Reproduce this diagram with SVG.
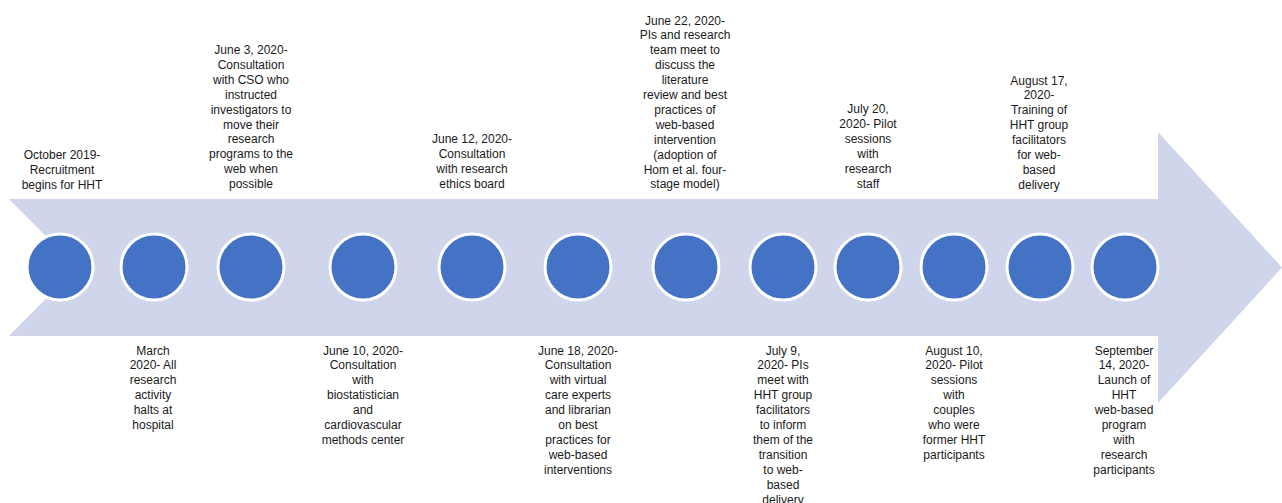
<svg xmlns="http://www.w3.org/2000/svg" width="1282" height="503" viewBox="0 0 1282 503">
<style>
.dot{fill:#4472C4;stroke:#FFFFFF;stroke-width:3}
.lbl{font-family:"Liberation Sans",Arial,sans-serif;font-size:12px;fill:#1a1a1a;text-anchor:middle}
</style>
<rect width="1282" height="503" fill="#FFFFFF"/>
<g id="connectors">
<polygon id="timeline-arrow" points="9,199 1158,199 1158,132 1282,267.5 1158,403 1158,336 9,336 77,267.5" fill="#CFD5EA"/>
</g>
<g id="n1"><circle class="dot" cx="60" cy="267" r="33"/>
<text class="lbl" x="62" y="159"><tspan x="62">October 2019-</tspan><tspan x="62" dy="14.9">Recruitment</tspan><tspan x="62" dy="14.9">begins for HHT</tspan></text></g>
<g id="n2"><circle class="dot" cx="154" cy="267" r="33"/>
<text class="lbl" x="153" y="354.5"><tspan x="153">March</tspan><tspan x="153" dy="14.9">2020- All</tspan><tspan x="153" dy="14.9">research</tspan><tspan x="153" dy="14.9">activity</tspan><tspan x="153" dy="14.9">halts at</tspan><tspan x="153" dy="14.9">hospital</tspan></text></g>
<g id="n3"><circle class="dot" cx="251" cy="267" r="33"/>
<text class="lbl" x="251" y="54"><tspan x="251">June 3, 2020-</tspan><tspan x="251" dy="14.9">Consultation</tspan><tspan x="251" dy="14.9">with CSO who</tspan><tspan x="251" dy="14.9">instructed</tspan><tspan x="251" dy="14.9">investigators to</tspan><tspan x="251" dy="14.9">move their</tspan><tspan x="251" dy="14.9">research</tspan><tspan x="251" dy="14.9">programs to the</tspan><tspan x="251" dy="14.9">web when</tspan><tspan x="251" dy="14.9">possible</tspan></text></g>
<g id="n4"><circle class="dot" cx="363" cy="267" r="33"/>
<text class="lbl" x="363" y="354.5"><tspan x="363">June 10, 2020-</tspan><tspan x="363" dy="14.9">Consultation</tspan><tspan x="363" dy="14.9">with</tspan><tspan x="363" dy="14.9">biostatistician</tspan><tspan x="363" dy="14.9">and</tspan><tspan x="363" dy="14.9">cardiovascular</tspan><tspan x="363" dy="14.9">methods center</tspan></text></g>
<g id="n5"><circle class="dot" cx="472" cy="267" r="33"/>
<text class="lbl" x="472" y="143"><tspan x="472">June 12, 2020-</tspan><tspan x="472" dy="14.9">Consultation</tspan><tspan x="472" dy="14.9">with research</tspan><tspan x="472" dy="14.9">ethics board</tspan></text></g>
<g id="n6"><circle class="dot" cx="578" cy="267" r="33"/>
<text class="lbl" x="578" y="354.5"><tspan x="578">June 18, 2020-</tspan><tspan x="578" dy="14.9">Consultation</tspan><tspan x="578" dy="14.9">with virtual</tspan><tspan x="578" dy="14.9">care experts</tspan><tspan x="578" dy="14.9">and librarian</tspan><tspan x="578" dy="14.9">on best</tspan><tspan x="578" dy="14.9">practices for</tspan><tspan x="578" dy="14.9">web-based</tspan><tspan x="578" dy="14.9">interventions</tspan></text></g>
<g id="n7"><circle class="dot" cx="686" cy="267" r="33"/>
<text class="lbl" x="685" y="24.5"><tspan x="685">June 22, 2020-</tspan><tspan x="685" dy="14.9">PIs and research</tspan><tspan x="685" dy="14.9">team meet to</tspan><tspan x="685" dy="14.9">discuss the</tspan><tspan x="685" dy="14.9">literature</tspan><tspan x="685" dy="14.9">review and best</tspan><tspan x="685" dy="14.9">practices of</tspan><tspan x="685" dy="14.9">web-based</tspan><tspan x="685" dy="14.9">intervention</tspan><tspan x="685" dy="14.9">(adoption of</tspan><tspan x="685" dy="14.9">Hom et al. four-</tspan><tspan x="685" dy="14.9">stage model)</tspan></text></g>
<g id="n8"><circle class="dot" cx="783" cy="267" r="33"/>
<text class="lbl" x="783" y="354.5"><tspan x="783">July 9,</tspan><tspan x="783" dy="14.9">2020- PIs</tspan><tspan x="783" dy="14.9">meet with</tspan><tspan x="783" dy="14.9">HHT group</tspan><tspan x="783" dy="14.9">facilitators</tspan><tspan x="783" dy="14.9">to inform</tspan><tspan x="783" dy="14.9">them of the</tspan><tspan x="783" dy="14.9">transition</tspan><tspan x="783" dy="14.9">to web-</tspan><tspan x="783" dy="14.9">based</tspan><tspan x="783" dy="14.9">delivery</tspan></text></g>
<g id="n9"><circle class="dot" cx="868" cy="267" r="33"/>
<text class="lbl" x="868" y="113"><tspan x="868">July 20,</tspan><tspan x="868" dy="14.9">2020- Pilot</tspan><tspan x="868" dy="14.9">sessions</tspan><tspan x="868" dy="14.9">with</tspan><tspan x="868" dy="14.9">research</tspan><tspan x="868" dy="14.9">staff</tspan></text></g>
<g id="n10"><circle class="dot" cx="954" cy="267" r="33"/>
<text class="lbl" x="954" y="354.5"><tspan x="954">August 10,</tspan><tspan x="954" dy="14.9">2020- Pilot</tspan><tspan x="954" dy="14.9">sessions</tspan><tspan x="954" dy="14.9">with</tspan><tspan x="954" dy="14.9">couples</tspan><tspan x="954" dy="14.9">who were</tspan><tspan x="954" dy="14.9">former HHT</tspan><tspan x="954" dy="14.9">participants</tspan></text></g>
<g id="n11"><circle class="dot" cx="1040" cy="267" r="33"/>
<text class="lbl" x="1039" y="84.5"><tspan x="1039">August 17,</tspan><tspan x="1039" dy="14.9">2020-</tspan><tspan x="1039" dy="14.9">Training of</tspan><tspan x="1039" dy="14.9">HHT group</tspan><tspan x="1039" dy="14.9">facilitators</tspan><tspan x="1039" dy="14.9">for web-</tspan><tspan x="1039" dy="14.9">based</tspan><tspan x="1039" dy="14.9">delivery</tspan></text></g>
<g id="n12"><circle class="dot" cx="1125" cy="267" r="33"/>
<text class="lbl" x="1124" y="354.5"><tspan x="1124">September</tspan><tspan x="1124" dy="14.9">14, 2020-</tspan><tspan x="1124" dy="14.9">Launch of</tspan><tspan x="1124" dy="14.9">HHT</tspan><tspan x="1124" dy="14.9">web-based</tspan><tspan x="1124" dy="14.9">program</tspan><tspan x="1124" dy="14.9">with</tspan><tspan x="1124" dy="14.9">research</tspan><tspan x="1124" dy="14.9">participants</tspan></text></g>
</svg>
